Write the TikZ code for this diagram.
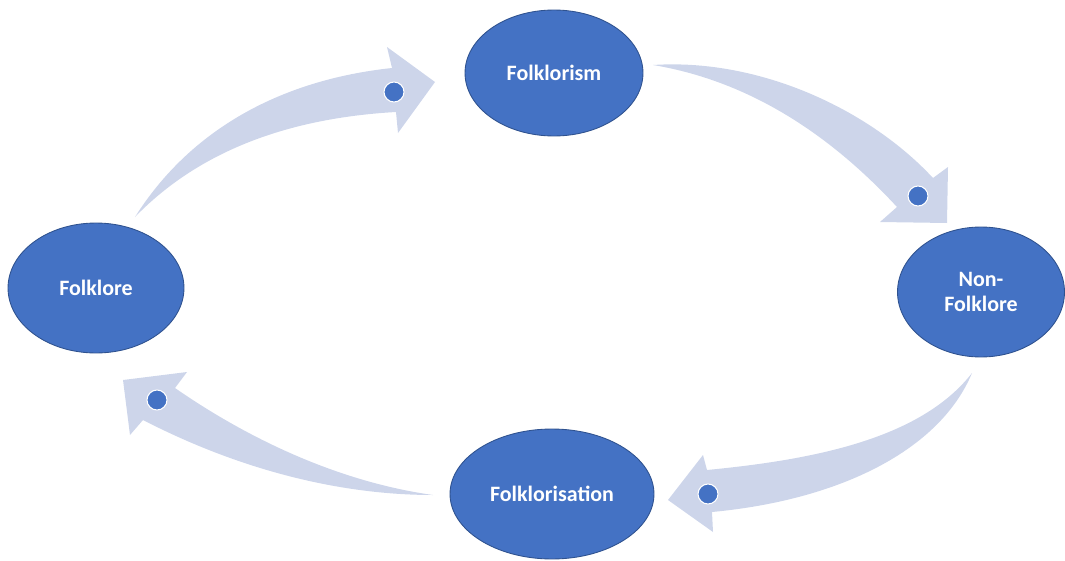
\documentclass[tikz,border=0pt]{standalone}
\usepackage{fontspec}
\setmainfont{Carlito}
\usepackage{tikz}
\usetikzlibrary{shapes.geometric}
\definecolor{stageblue}{HTML}{4472C4}
\definecolor{stageedge}{HTML}{2F528F}
\definecolor{flowblue}{HTML}{CDD5EA}
\tikzset{stage/.style={ellipse, fill=stageblue, draw=stageedge, line width=0.5pt, inner sep=0pt, text=white, font=\fontsize{12.5}{14.5}\selectfont\bfseries, align=center}}

\begin{document}
\begin{tikzpicture}[x=0.02cm, y=-0.02cm, flow/.style={fill=flowblue}, dot/.style={circle, fill=stageblue, draw=white, line width=0.6pt, minimum size=0.4cm, inner sep=0pt}]
    \useasboundingbox (0, 0) rectangle (1065, 561);
    \fill[flow] (135, 217) .. controls (190, 130) and (280, 80) .. (392, 68) -- (387, 47) -- (435, 82) -- (398, 133) -- (396, 112) .. controls (290, 118) and (200, 150) .. (135, 217) -- cycle;
    \fill[flow] (653, 65) .. controls (760, 58) and (870, 110) .. (933, 178) -- (948, 167) -- (947, 223) -- (880, 222) -- (897, 207) .. controls (835, 140) and (755, 82) .. (653, 65) -- cycle;
    \fill[flow] (972, 373) .. controls (920, 440) and (810, 460) .. (707, 470) -- (703, 455) -- (668, 500) -- (713, 532) -- (712, 512) .. controls (840, 500) and (940, 450) .. (972, 373) -- cycle;
    \fill[flow] (433, 495) .. controls (340, 495) and (240, 470) .. (143, 420) -- (130, 435) -- (123, 380) -- (187, 372) -- (175, 388) .. controls (250, 440) and (340, 482) .. (433, 495) -- cycle;
    \node[stage, minimum width=3.56cm, minimum height=2.52cm] (folklorism) at (554, 73) {Folklorism};
    \node[stage, minimum width=3.52cm, minimum height=2.6cm] (folklore) at (96, 288) {Folklore};
    \node[stage, minimum width=3.34cm, minimum height=2.6cm] (nonfolklore) at (981, 292) {Non-\\Folklore};
    \node[stage, minimum width=4.08cm, minimum height=2.6cm] (folklorisation) at (552, 494) {Folklorisation};
    \node[dot] (dotA) at (394, 92) {};
    \node[dot] (dotB) at (918, 196) {};
    \node[dot] (dotC) at (708, 494) {};
    \node[dot] (dotD) at (157, 400) {};
\end{tikzpicture}
\end{document}
